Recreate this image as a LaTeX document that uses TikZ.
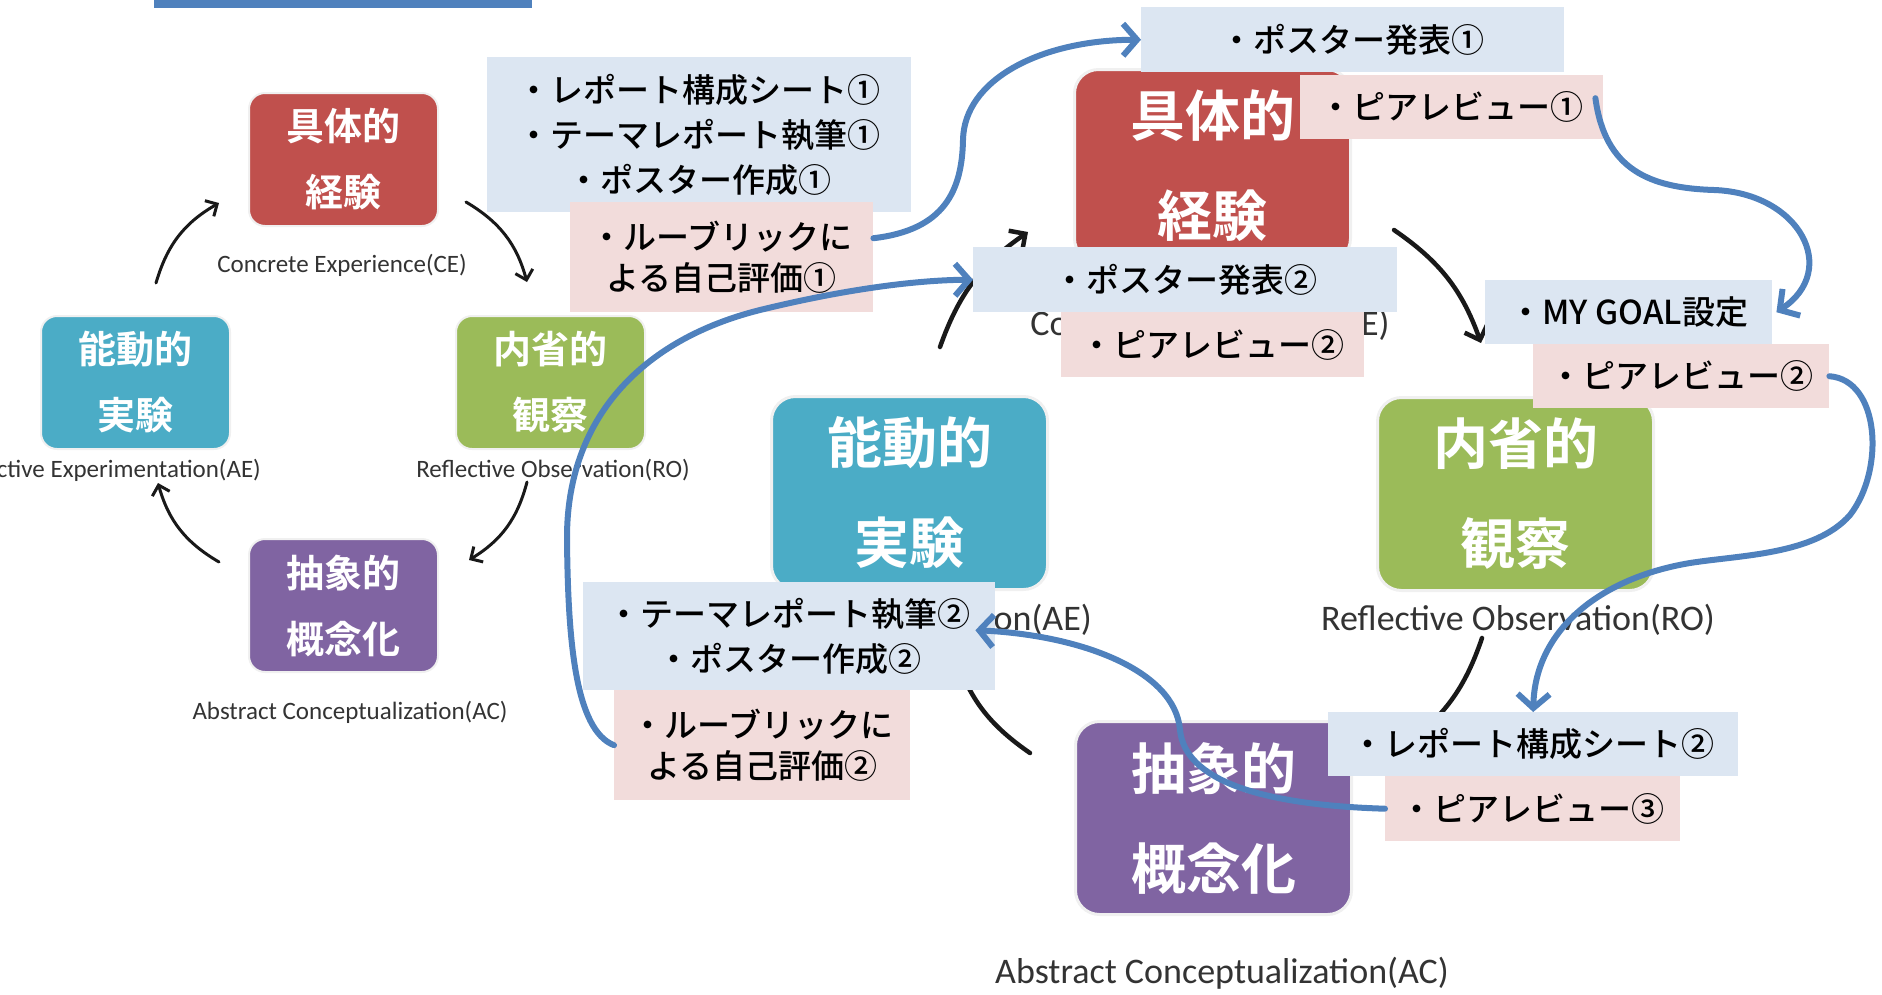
\documentclass[tikz,border=0pt]{standalone}
\usepackage{fontspec}
\newfontfamily\jp{Noto Sans CJK JP Medium}
\newfontfamily\jpb{Noto Sans CJK JP Bold}
\newfontfamily\lat{Carlito}
\usetikzlibrary{arrows.meta,calc}
\definecolor{cRed}{HTML}{C0504D}
\definecolor{cCyan}{HTML}{4BACC6}
\definecolor{cGreen}{HTML}{9BBB59}
\definecolor{cPurple}{HTML}{8064A2}
\definecolor{cBlueFill}{HTML}{DCE6F2}
\definecolor{cPinkFill}{HTML}{F2DCDB}
\definecolor{cArrow}{HTML}{4F81BD}
\begin{document}
\begin{tikzpicture}[x=1pt,y=-1pt,
  bigbox/.style={rounded corners=24pt, inner sep=0pt, anchor=north west,
    minimum width=276pt, minimum height=193pt, text=white, align=center,
    font=\jpb\fontsize{55}{100}\selectfont, draw=black!6, line width=3pt},
  smallbox/.style={rounded corners=16pt, inner sep=0pt, anchor=north west,
    minimum width=189pt, minimum height=133pt, text=white, align=center,
    font=\jpb\fontsize{38}{66}\selectfont, draw=black!6, line width=2pt},
  slabel/.style={font=\lat\fontsize{25}{30}\selectfont, text=black!80, inner sep=0pt},
  llabel/.style={font=\lat\fontsize{36}{42}\selectfont, text=black!80, inner sep=0pt},
  infoblue/.style={fill=cBlueFill, anchor=north west, inner sep=0pt, align=center,
    font=\jp\fontsize{33}{45}\selectfont},
  infopink/.style={fill=cPinkFill, anchor=north west, inner sep=0pt, align=center,
    font=\jp\fontsize{33}{41}\selectfont},
  cycS/.style={draw=black!90, line width=3pt, line cap=round,
    -{Straight Barb[length=9pt,width=18pt]}, bend left=22},
  cycL/.style={draw=black!90, line width=4.5pt, line cap=round,
    -{Straight Barb[length=12pt,width=24pt]}, bend left=18},
  flow/.style={draw=cArrow, line width=6pt, line cap=round,
    -{Straight Barb[length=14pt,width=32pt]}}
]
\useasboundingbox (0,0) rectangle (1882,994);
\clip (0,0) rectangle (1882,994);

% top bar
\fill[cArrow] (154,0) rectangle (532,8);

% small cycle
\node[smallbox, fill=cRed]    (sCE) at (248,92)  {具体的\\経験};
\node[smallbox, fill=cCyan]   (sAE) at (40,315)  {能動的\\実験};
\node[smallbox, fill=cGreen]  (sRO) at (455,315) {内省的\\観察};
\node[smallbox, fill=cPurple] (sAC) at (248,538) {抽象的\\概念化};
\node[slabel] (sCEl) at (342,265) {Concrete Experience(CE)};
\node[slabel, anchor=east] (sAEl) at (261,470) {Active Experimentation(AE)};
\node[slabel] (sROl) at (553,470) {Reflective Observation(RO)};
\node[slabel] (sACl) at (350,712) {Abstract Conceptualization(AC)};

\coordinate (sa1) at (156,283); \coordinate (sa2) at (219,203);
\coordinate (sb1) at (466,202); \coordinate (sb2) at (527,282);
\coordinate (sc1) at (527,482); \coordinate (sc2) at (469,560);
\coordinate (sd1) at (219,562); \coordinate (sd2) at (158,483);
\draw[cycS] (sa1) to (sa2);
\draw[cycS] (sb1) to (sb2);
\draw[cycS] (sc1) to (sc2);
\draw[cycS] (sd1) to (sd2);

% large cycle
\node[bigbox, fill=cRed]    (lCE) at (1073,68)  {具体的\\経験};
\node[bigbox, fill=cCyan]   (lAE) at (770,395)  {能動的\\実験};
\node[bigbox, fill=cGreen]  (lRO) at (1376,396) {内省的\\観察};
\node[bigbox, fill=cPurple] (lAC) at (1074,720) {抽象的\\概念化};
\node[llabel] (lCEl) at (1210,325) {Concrete Experience(CE)};
\node[llabel, anchor=east] (lAEl) at (1092,620) {Active Experimentation(AE)};
\node[llabel] (lROl) at (1518,620) {Reflective Observation(RO)};
\node[llabel] (lACl) at (1222,973) {Abstract Conceptualization(AC)};

\coordinate (la1) at (940,347);  \coordinate (la2) at (1028,232);
\coordinate (lb1) at (1394,230); \coordinate (lb2) at (1481,343);
\coordinate (lc1) at (1482,638); \coordinate (lc2) at (1400,748);
\coordinate (ld1) at (1030,753); \coordinate (ld2) at (955,655);
\draw[cycL] (la1) to (la2);
\draw[cycL] (lb1) to (lb2);
\draw[cycL] (lc1) to (lc2);
\draw[cycL] (ld1) to (ld2);

% activity boxes
\node[infoblue, minimum width=424pt, minimum height=155pt] (b1) at (487,57)
  {・レポート構成シート①\\・テーマレポート執筆①\\・ポスター作成①};
\node[infopink, minimum width=303pt, minimum height=110pt] (p1) at (570,202)
  {・ルーブリックに\\よる自己評価①};
\node[infoblue, minimum width=423pt, minimum height=65pt] (b3) at (1141,7) {・ポスター発表①};
\node[infopink, minimum width=303pt, minimum height=64pt] (b4) at (1300,75) {・ピアレビュー①};
\node[infoblue, minimum width=424pt, minimum height=65pt] (b5) at (973,247) {・ポスター発表②};
\node[infopink, minimum width=303pt, minimum height=65pt] (b6) at (1061,312) {・ピアレビュー②};
\node[infoblue, minimum width=287pt, minimum height=64pt] (b7) at (1485,280) {・MY GOAL設定};
\node[infopink, minimum width=296pt, minimum height=64pt] (b8) at (1533,344) {・ピアレビュー②};
\node[infoblue, minimum width=412pt, minimum height=108pt] (b9) at (583,582)
  {・テーマレポート執筆②\\・ポスター作成②};
\node[infopink, minimum width=296pt, minimum height=110pt] (p10) at (614,690)
  {・ルーブリックに\\よる自己評価②};
\node[infoblue, minimum width=410pt, minimum height=64pt] (b11) at (1328,712) {・レポート構成シート②};
\node[infopink, minimum width=295pt, minimum height=65pt] (b12) at (1385,776) {・ピアレビュー③};

% flow arrows
\draw[flow] ($(p1.east)+(0,-19)$) .. controls (945,230) and (962,190) .. (963,140)
  .. controls (964,80) and (1040,40) .. (b3.west);
\draw[flow] ($(b4.east)+(-8,-9)$) .. controls (1605,170) and (1650,188) .. (1714,190)
  .. controls (1800,193) and (1840,270) .. ($(b7.east)+(4,0)$);
\draw[flow] (b8.east) .. controls (1880,380) and (1885,470) .. (1850,515)
  .. controls (1815,555) and (1740,555) .. (1690,563)
  .. controls (1600,578) and (1535,630) .. (b11.north);
\draw[flow] (b12.west) .. controls (1260,805) and (1185,780) .. (1180,730)
  .. controls (1175,670) and (1080,635) .. ($(b9.east)+(-20,-6)$);
\draw[flow] (p10.west) .. controls (575,730) and (568,640) .. (567,540)
  .. controls (566,420) and (640,340) .. (760,310)
  .. controls (850,288) and (920,280) .. (b5.west);
\end{tikzpicture}
\end{document}
